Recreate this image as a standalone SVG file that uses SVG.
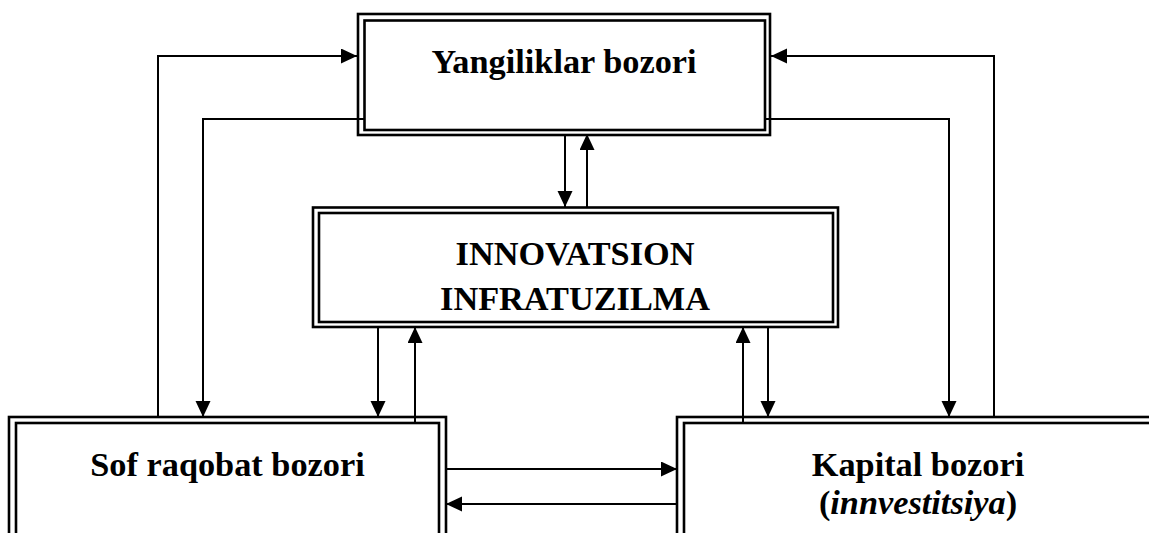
<svg xmlns="http://www.w3.org/2000/svg" width="1149" height="533" viewBox="0 0 1149 533">
  <style>
    .frame { fill: none; stroke: #000; stroke-width: 2.6; }
    .lbl { font-family: "Liberation Serif", "Times New Roman", serif; font-weight: bold; font-size: 34.3px; fill: #000; text-anchor: middle; }
    .conn { fill: none; stroke: #000; stroke-width: 2; }
  </style>
  <defs>
    <marker id="arr" markerUnits="userSpaceOnUse" markerWidth="17" markerHeight="16" refX="16" refY="7.5" orient="auto">
      <path d="M0,0 L16,7.5 L0,15 z" fill="#000"/>
    </marker>
  </defs>
  <rect width="1149" height="533" fill="#fff"/>

  <g id="node-yangiliklar">
    <rect class="frame" x="358" y="14" width="412" height="121"/>
    <rect class="frame" x="364.5" y="20.5" width="400.5" height="109.5"/>
    <text class="lbl" x="564" y="73">Yangiliklar bozori</text>
  </g>

  <g id="node-innovatsion">
    <rect class="frame" x="313" y="207.5" width="525" height="119.5"/>
    <rect class="frame" x="319" y="213" width="514" height="109"/>
    <text class="lbl" x="575" y="265">INNOVATSION</text>
    <text class="lbl" x="575" y="310">INFRATUZILMA</text>
  </g>

  <g id="node-sof">
    <rect class="frame" x="9" y="417" width="437" height="150"/>
    <rect class="frame" x="16" y="423" width="423" height="140"/>
    <text class="lbl" x="227.5" y="476">Sof raqobat bozori</text>
  </g>

  <g id="node-kapital">
    <rect class="frame" x="677" y="417" width="500" height="150"/>
    <rect class="frame" x="684" y="423" width="490" height="140"/>
    <text class="lbl" x="918" y="476">Kapital bozori</text>
    <text class="lbl" x="918" y="514">(<tspan font-style="italic">innvestitsiya</tspan>)</text>
  </g>

  <g id="connectors">
    <polyline class="conn" points="158,417 158,56 357,56" marker-end="url(#arr)"/>
    <polyline class="conn" points="364,119 203,119 203,417" marker-end="url(#arr)"/>
    <polyline class="conn" points="994,417 994,56 771,56" marker-end="url(#arr)"/>
    <polyline class="conn" points="765,119 949,119 949,417" marker-end="url(#arr)"/>

    <line class="conn" x1="565" y1="135" x2="565" y2="207" marker-end="url(#arr)"/>
    <line class="conn" x1="587" y1="207" x2="587" y2="134" marker-end="url(#arr)"/>

    <line class="conn" x1="378" y1="327" x2="378" y2="417" marker-end="url(#arr)"/>
    <line class="conn" x1="415" y1="422" x2="415" y2="327" marker-end="url(#arr)"/>

    <line class="conn" x1="743" y1="422" x2="743" y2="327" marker-end="url(#arr)"/>
    <line class="conn" x1="768" y1="327" x2="768" y2="417" marker-end="url(#arr)"/>

    <line class="conn" x1="446" y1="469" x2="677" y2="469" marker-end="url(#arr)"/>
    <line class="conn" x1="677" y1="504" x2="446" y2="504" marker-end="url(#arr)"/>
  </g>
</svg>
